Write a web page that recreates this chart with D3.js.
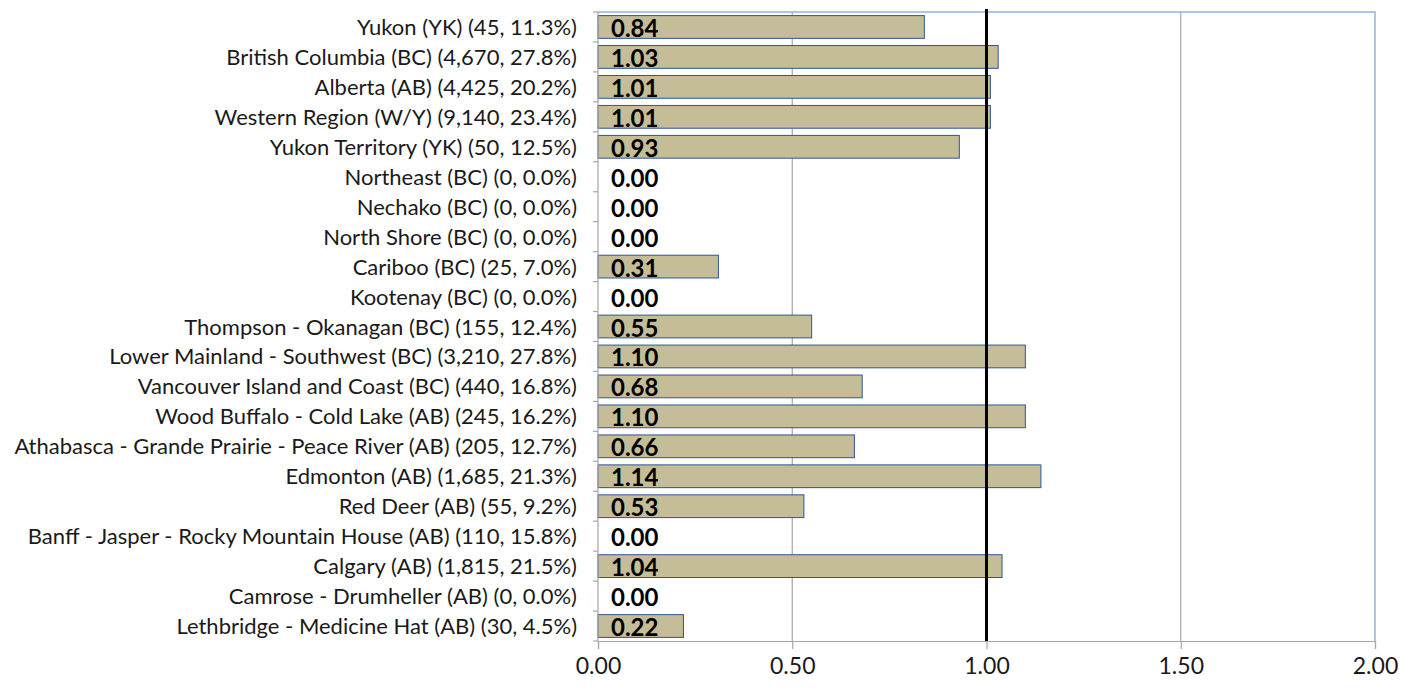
<!DOCTYPE html>
<html><head><meta charset="utf-8">
<script src="https://cdn.jsdelivr.net/npm/d3@7"></script>
<style>body{margin:0;background:#fff;} svg{display:block;}</style>
</head><body>
<svg id="c" width="1403" height="693"></svg>
<script>
const categories = [
"Yukon (YK) (45, 11.3%)",
"British Columbia (BC) (4,670, 27.8%)",
"Alberta (AB) (4,425, 20.2%)",
"Western Region (W/Y) (9,140, 23.4%)",
"Yukon Territory (YK) (50, 12.5%)",
"Northeast (BC) (0, 0.0%)",
"Nechako (BC) (0, 0.0%)",
"North Shore (BC) (0, 0.0%)",
"Cariboo (BC) (25, 7.0%)",
"Kootenay (BC) (0, 0.0%)",
"Thompson - Okanagan (BC) (155, 12.4%)",
"Lower Mainland - Southwest (BC) (3,210, 27.8%)",
"Vancouver Island and Coast (BC) (440, 16.8%)",
"Wood Buffalo - Cold Lake (AB) (245, 16.2%)",
"Athabasca - Grande Prairie - Peace River (AB) (205, 12.7%)",
"Edmonton (AB) (1,685, 21.3%)",
"Red Deer (AB) (55, 9.2%)",
"Banff - Jasper - Rocky Mountain House (AB) (110, 15.8%)",
"Calgary (AB) (1,815, 21.5%)",
"Camrose - Drumheller (AB) (0, 0.0%)",
"Lethbridge - Medicine Hat (AB) (30, 4.5%)"
];
const values = [0.84,1.03,1.01,1.01,0.93,0.00,0.00,0.00,0.31,0.00,0.55,1.10,0.68,1.10,0.66,1.14,0.53,0.00,1.04,0.00,0.22];
const xTicks = [0,0.5,1,1.5,2];
const referenceValue = 1.0;

const svg = d3.select("#c");
const L=598, R=1375, T=12, B=641;
const x = d3.scaleLinear().domain([0,2]).range([L,R]);
const y = d3.scaleBand().domain(categories).range([T,B]).paddingInner(0.24).paddingOuter(0.12);
const font = "Lato, 'Open Sans', sans-serif";

// gridlines
svg.append("g").selectAll("line").data(xTicks.filter(d=>d>0 && d<2)).join("line")
  .attr("x1",d=>x(d)).attr("x2",d=>x(d)).attr("y1",T).attr("y2",B)
  .attr("stroke","#A6A6A6").attr("stroke-width",1.2);
// plot border top/right
svg.append("path").attr("d",`M${L},${T}H${R}V${B}`).attr("fill","none")
  .attr("stroke","#8DB3E2").attr("stroke-width",1.5);

// bars
svg.append("g").selectAll("rect").data(categories).join("rect")
  .attr("x",x(0)).attr("y",d=>y(d)).attr("height",y.bandwidth())
  .attr("width",(d,i)=>x(values[i])-x(0))
  .attr("fill",(d,i)=>values[i]>0?"#C4BD97":"none")
  .attr("stroke",(d,i)=>values[i]>0?"#2F5597":"none").attr("stroke-width",1);

// reference line
svg.append("line").attr("x1",x(referenceValue)).attr("x2",x(referenceValue))
  .attr("y1",T-3).attr("y2",B).attr("stroke","#000").attr("stroke-width",3);

// bar labels
svg.append("g").selectAll("text").data(categories).join("text")
  .attr("x",x(0)+13).attr("y",d=>y(d)+y.bandwidth()/2+10)
  .attr("font-family",font).attr("font-weight","bold").attr("font-size",24)
  .attr("fill","#000").text((d,i)=>values[i].toFixed(2));

// left axis
const boundaries = d3.range(categories.length+1).map(i=>T+i*(B-T)/categories.length);
svg.append("line").attr("x1",L).attr("x2",L).attr("y1",T).attr("y2",B).attr("stroke","#A6A6A6").attr("stroke-width",1.2);
svg.append("g").selectAll("line").data(boundaries).join("line")
  .attr("x1",L-5).attr("x2",L).attr("y1",d=>d).attr("y2",d=>d).attr("stroke","#A6A6A6").attr("stroke-width",1.2);
svg.append("g").selectAll("text").data(categories).join("text")
  .attr("x",577).attr("y",d=>y(d)+y.bandwidth()/2+8).attr("text-anchor","end")
  .attr("font-family",font).attr("font-size",22).attr("fill","#1a1a1a").text(d=>d);

// bottom axis
const xa = d3.axisBottom(x).tickValues(xTicks).tickSize(8).tickFormat(d3.format(".2f"));
const gx = svg.append("g").attr("transform",`translate(0,${B})`).call(xa);
gx.select(".domain").attr("stroke","#A6A6A6").attr("stroke-width",1.2);
gx.selectAll(".tick line").attr("stroke","#A6A6A6").attr("stroke-width",1.2);
gx.selectAll(".tick text").attr("font-family",font).attr("font-size",23).attr("fill","#1a1a1a").attr("dy","0.95em");
</script>
</body></html>
